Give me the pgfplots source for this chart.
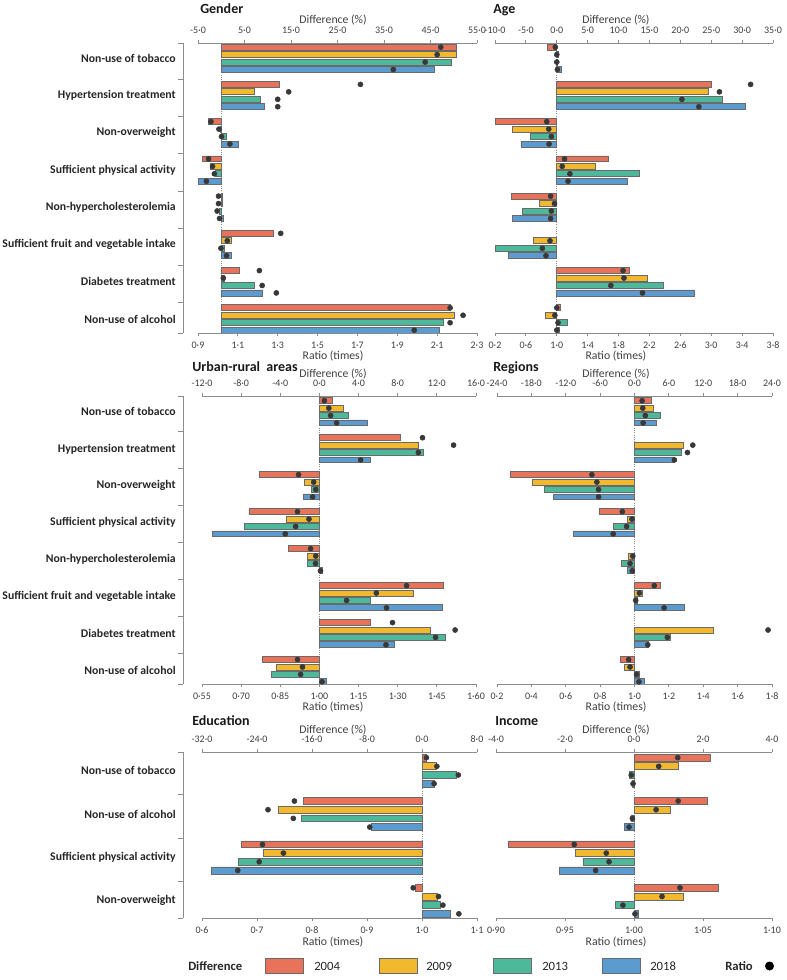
\documentclass[border=0pt]{standalone}
\usepackage{pgfplots}
\pgfplotsset{compat=1.18}
\usepackage{fontspec}
\setmainfont{Carlito}
\definecolor{cR}{HTML}{E8735A}
\definecolor{cY}{HTML}{F2B92E}
\definecolor{cG}{HTML}{4DB99A}
\definecolor{cB}{HTML}{5B9BD0}
\definecolor{cEdge}{HTML}{6A6A6A}
\definecolor{cAxis}{HTML}{8C8C8C}
\definecolor{cTick}{HTML}{404040}
\definecolor{cDot}{HTML}{383838}
\pgfplotsset{
  base/.style={scale only axis, anchor=north west, y dir=reverse, clip=false, axis y line=none,
    axis line style={cAxis, line width=0.6pt}, tick style={cAxis, line width=0.6pt},
    major tick length=2.5pt, tick align=outside,
    label style={font=\fontsize{8.8}{10}\selectfont, text=cTick}},
  diff/.style={base, axis x line*=top, xlabel={Difference (\%)},
    xticklabel style={font=\fontsize{7.5}{8}\selectfont, text=cTick, yshift=1.2pt}},
  ratio/.style={base, axis x line*=bottom, xlabel={Ratio (times)},
    xticklabel style={font=\fontsize{7.5}{8}\selectfont, text=cTick, yshift=-0.8pt}},
  bR/.style={xbar, bar shift=0pt, bar width=0.8, fill=cR, draw=cEdge, line width=0.6pt},
  bY/.style={xbar, bar shift=0pt, bar width=0.8, fill=cY, draw=cEdge, line width=0.6pt},
  bG/.style={xbar, bar shift=0pt, bar width=0.8, fill=cG, draw=cEdge, line width=0.6pt},
  bB/.style={xbar, bar shift=0pt, bar width=0.8, fill=cB, draw=cEdge, line width=0.6pt},
  dots/.style={only marks, mark=*, mark size=1.9pt, color=cDot},
  zero/.style={densely dotted, cAxis, line width=0.7pt},
  cats/.style={scale only axis, anchor=north west, width=1pt, xmin=0, xmax=1, y dir=reverse,
    axis x line=none, axis y line*=left, axis line style={cAxis,line width=0.6pt},
    major tick length=0pt, minor tick length=4pt, tick align=outside,
    minor tick style={cAxis, line width=0.6pt},
    yticklabel style={font=\bfseries\fontsize{8.8}{10}\selectfont, text=black!85, inner sep=0pt, xshift=-5.25pt, anchor=east}},
}
\begin{document}
\begin{tikzpicture}
\path[use as bounding box] (0,0) rectangle (590.25pt,-735pt);

% ================= GENDER =================
\begin{axis}[cats, at={(137.25pt,-32.25pt)}, height=217.5pt, ymin=-0.56, ymax=38.38,
  ytick={1.5,6.5,11.5,16.5,21.5,26.5,31.5,36.5},
  yticklabels={Non-use of tobacco,Hypertension treatment,Non-overweight,Sufficient physical activity,Non-hypercholesterolemia,Sufficient fruit and vegetable intake,Diabetes treatment,Non-use of alcohol},
  minor ytick={-0.56,4.3,9.3,14.3,19.3,24.3,29.3,34.3,38.38}]
\addplot[draw=none] coordinates {(0,0)};
\end{axis}
\begin{axis}[diff, at={(148.5pt,-32.25pt)}, width=209.25pt, height=217.5pt, xmin=-5, xmax=55, ymin=-0.56, ymax=38.38,
  xtick={-5,5,15,25,35,45,55}, xticklabels={-5·0,5·0,15·0,25·0,35·0,45·0,55·0},
  xlabel style={at={(axis description cs:0.484,1)}, anchor=base, yshift=14.25pt}]
\addplot[zero] coordinates {(0,-0.56) (0,38.38)};
\addplot[bR] coordinates {(50.5,0) (12.5,5) (-2.7,10) (-4.0,15) (0.2,20) (11.3,25) (3.9,30) (49.2,35)};
\addplot[bY] coordinates {(50.5,1) (7.2,6) (-0.1,11) (-2.4,16) (0.2,21) (2.1,26) (0.6,31) (50.2,36)};
\addplot[bG] coordinates {(49.6,2) (8.5,7) (1.2,12) (-1.3,17) (-0.4,22) (0.7,27) (7.1,32) (47.7,37)};
\addplot[bB] coordinates {(45.9,3) (9.3,8) (3.7,13) (-4.9,18) (0.4,23) (2.1,28) (8.8,33) (46.9,38)};
\end{axis}
\begin{axis}[ratio, at={(148.5pt,-32.25pt)}, width=209.25pt, height=217.5pt, xmin=0.9, xmax=2.3, ymin=-0.56, ymax=38.38,
  xtick={0.9,1.1,1.3,1.5,1.7,1.9,2.1,2.3}, xticklabels={0·9,1·1,1·3,1·5,1·7,1·9,2·1,2·3},
  xlabel style={at={(axis description cs:0.484,0)}, anchor=base, yshift=-19.5pt}]
\addplot[dots] coordinates {(2.118,0) (1.715,5) (0.965,10) (0.953,15) (1.003,20) (1.315,25) (1.208,30) (2.165,35)};
\addplot[dots] coordinates {(2.10,1) (1.355,6) (1.005,11) (0.973,16) (1.003,21) (1.047,26) (1.027,31) (2.23,36)};
\addplot[dots] coordinates {(2.04,2) (1.30,7) (1.018,12) (0.982,17) (0.996,22) (1.015,27) (1.222,32) (2.165,37)};
\addplot[dots] coordinates {(1.88,3) (1.30,8) (1.06,13) (0.942,18) (1.008,23) (1.043,28) (1.293,33) (1.985,38)};
\end{axis}

% ================= AGE =================
\begin{axis}[diff, at={(371.25pt,-32.25pt)}, width=208.5pt, height=217.5pt, xmin=-10, xmax=35, ymin=-0.56, ymax=38.38,
  xtick={-10,-5,0,5,10,15,20,25,30,35}, xticklabels={-10·0,-5·0,0·0,5·0,10·0,15·0,20·0,25·0,30·0,35·0},
  xlabel style={at={(axis description cs:0.435,1)}, anchor=base, yshift=14.25pt}]
\addplot[zero] coordinates {(0,-0.56) (0,38.38)};
\addplot[bR] coordinates {(-1.5,0) (25.1,5) (-9.9,10) (8.3,15) (-7.4,20) (11.8,30) (0.6,35)};
\addplot[bY] coordinates {(0.2,1) (24.5,6) (-7.2,11) (6.2,16) (-2.75,21) (-3.8,26) (14.7,31) (-1.9,36)};
\addplot[bG] coordinates {(0.1,2) (26.8,7) (-4.2,12) (13.4,17) (-5.5,22) (-9.9,27) (17.3,32) (1.7,37)};
\addplot[bB] coordinates {(0.7,3) (30.5,8) (-5.8,13) (11.4,18) (-7.2,23) (-7.8,28) (22.3,33) (0.4,38)};
\end{axis}
\begin{axis}[ratio, at={(371.25pt,-32.25pt)}, width=208.5pt, height=217.5pt, xmin=0.2, xmax=3.8, ymin=-0.56, ymax=38.38,
  xtick={0.2,0.6,1.0,1.4,1.8,2.2,2.6,3.0,3.4,3.8}, xticklabels={0·2,0·6,1·0,1·4,1·8,2·2,2·6,3·0,3·4,3·8},
  xlabel style={at={(axis description cs:0.435,0)}, anchor=base, yshift=-19.5pt}]
\addplot[dots] coordinates {(0.981,0) (3.51,5) (0.87,10) (1.10,15) (0.92,20) (1.858,30) (1.0,35)};
\addplot[dots] coordinates {(1.0,1) (3.106,6) (0.896,11) (1.07,16) (0.97,21) (0.912,26) (1.87,31) (0.975,36)};
\addplot[dots] coordinates {(1.0,2) (2.62,7) (0.93,12) (1.17,17) (0.93,22) (0.813,27) (1.70,32) (1.016,37)};
\addplot[dots] coordinates {(1.008,3) (2.84,8) (0.90,13) (1.146,18) (0.92,23) (0.86,28) (2.11,33) (1.0,38)};
\end{axis}

% ================= URBAN-RURAL =================
\begin{axis}[cats, at={(137.25pt,-297pt)}, height=216pt, ymin=-0.64, ymax=38.3,
  ytick={1.5,6.5,11.5,16.5,21.5,26.5,31.5,36.5},
  yticklabels={Non-use of tobacco,Hypertension treatment,Non-overweight,Sufficient physical activity,Non-hypercholesterolemia,Sufficient fruit and vegetable intake,Diabetes treatment,Non-use of alcohol},
  minor ytick={-0.64,4.2,9.2,14.2,19.2,24.2,29.2,34.2,38.3}]
\addplot[draw=none] coordinates {(0,0)};
\end{axis}
\begin{axis}[diff, at={(151.5pt,-297pt)}, width=205.5pt, height=216pt, xmin=-12, xmax=16, ymin=-0.64, ymax=38.3,
  xtick={-12,-8,-4,0,4,8,12,16}, xticklabels={-12·0,-8·0,-4·0,0·0,4·0,8·0,12·0,16·0},
  xlabel style={at={(axis description cs:0.478,1)}, anchor=base, yshift=14.25pt}]
\addplot[zero] coordinates {(0,-0.64) (0,38.3)};
\addplot[bR] coordinates {(1.3,0) (8.3,5) (-6.1,10) (-7.2,15) (-3.2,20) (12.7,25) (5.2,30) (-5.8,35)};
\addplot[bY] coordinates {(2.4,1) (10.1,6) (-1.5,11) (-3.4,16) (-1.2,21) (9.6,26) (11.3,31) (-4.4,36)};
\addplot[bG] coordinates {(3.0,2) (10.6,7) (-0.85,12) (-7.7,17) (-1.2,22) (5.2,27) (12.9,32) (-4.9,37)};
\addplot[bB] coordinates {(4.9,3) (5.2,8) (-1.6,13) (-10.9,18) (0.3,23) (12.6,28) (7.7,33) (0.75,38)};
\end{axis}
\begin{axis}[ratio, at={(151.5pt,-297pt)}, width=205.5pt, height=216pt, xmin=0.55, xmax=1.60, ymin=-0.64, ymax=38.3,
  xtick={0.55,0.70,0.85,1.00,1.15,1.30,1.45,1.60}, xticklabels={0·55,0·70,0·85,1·00,1·15,1·30,1·45,1·60},
  xlabel style={at={(axis description cs:0.478,0)}, anchor=base, yshift=-19.5pt}]
\addplot[dots] coordinates {(1.019,0) (1.395,5) (0.92,10) (0.916,15) (0.966,20) (1.334,25) (1.28,30) (0.916,35)};
\addplot[dots] coordinates {(1.036,1) (1.514,6) (0.978,11) (0.96,16) (0.986,21) (1.218,26) (1.52,31) (0.935,36)};
\addplot[dots] coordinates {(1.043,2) (1.379,7) (0.986,12) (0.909,17) (0.985,22) (1.104,27) (1.445,32) (0.928,37)};
\addplot[dots] coordinates {(1.066,3) (1.158,8) (0.974,13) (0.869,18) (1.004,23) (1.257,28) (1.255,33) (1.01,38)};
\end{axis}

% ================= REGIONS =================
\begin{axis}[diff, at={(372.75pt,-297pt)}, width=206.25pt, height=216pt, xmin=-24, xmax=24, ymin=-0.64, ymax=38.3,
  xtick={-24,-18,-12,-6,0,6,12,18,24}, xticklabels={-24·0,-18·0,-12·0,-6·0,0·0,6·0,12·0,18·0,24·0},
  xlabel style={at={(axis description cs:0.433,1)}, anchor=base, yshift=14.25pt}]
\addplot[zero] coordinates {(0,-0.64) (0,38.3)};
\addplot[bR] coordinates {(2.9,0) (-21.6,10) (-6.2,15) (4.5,25) (-2.4,35)};
\addplot[bY] coordinates {(3.3,1) (8.5,6) (-17.8,11) (-1.25,16) (-1.1,21) (1.35,26) (13.7,31) (-1.8,36)};
\addplot[bG] coordinates {(4.5,2) (8.2,7) (-15.7,12) (-3.7,17) (-2.3,22) (0.55,27) (6.2,32) (0.8,37)};
\addplot[bB] coordinates {(3.8,3) (7.0,8) (-14.1,13) (-10.6,18) (-1.25,23) (8.7,28) (2.5,33) (1.7,38)};
\end{axis}
\begin{axis}[ratio, at={(372.75pt,-297pt)}, width=206.25pt, height=216pt, xmin=0.2, xmax=1.8, ymin=-0.64, ymax=38.3,
  xtick={0.2,0.4,0.6,0.8,1.0,1.2,1.4,1.6,1.8}, xticklabels={0·2,0·4,0·6,0·8,1·0,1·2,1·4,1·6,1·8},
  xlabel style={at={(axis description cs:0.433,0)}, anchor=base, yshift=-19.5pt}]
\addplot[dots] coordinates {(1.044,0) (0.752,10) (0.929,15) (1.115,25) (0.966,35)};
\addplot[dots] coordinates {(1.048,1) (1.339,6) (0.781,11) (0.985,16) (0.99,21) (1.028,26) (1.777,31) (0.974,36)};
\addplot[dots] coordinates {(1.063,2) (1.308,7) (0.791,12) (0.954,17) (0.974,22) (1.007,27) (1.191,32) (1.012,37)};
\addplot[dots] coordinates {(1.05,3) (1.232,8) (0.791,13) (0.876,18) (0.987,23) (1.172,28) (1.077,33) (1.026,38)};
\end{axis}

% ================= EDUCATION =================
\begin{axis}[cats, at={(137.25pt,-564pt)}, height=124.5pt, ymin=-0.65, ymax=18.48,
  ytick={1.5,6.5,11.5,16.5},
  yticklabels={Non-use of tobacco,Non-use of alcohol,Sufficient physical activity,Non-overweight},
  minor ytick={-0.65,4.25,9.25,14.25,18.48}]
\addplot[draw=none] coordinates {(0,0)};
\end{axis}
\begin{axis}[diff, at={(151.5pt,-564pt)}, width=206.25pt, height=124.5pt, xmin=-32, xmax=8, ymin=-0.65, ymax=18.48,
  xtick={-32,-24,-16,-8,0,8}, xticklabels={-32·0,-24·0,-16·0,-8·0,0·0,8·0},
  xlabel style={at={(axis description cs:0.476,1)}, anchor=base, yshift=14.25pt}]
\addplot[zero] coordinates {(0,-0.65) (0,18.48)};
\addplot[bR] coordinates {(0.7,0) (-17.2,5) (-26.2,10) (-1.0,15)};
\addplot[bY] coordinates {(2.1,1) (-20.9,6) (-23.1,11) (2.2,16)};
\addplot[bG] coordinates {(5.0,2) (-17.6,7) (-26.7,12) (2.7,17)};
\addplot[bB] coordinates {(1.8,3) (-7.4,8) (-30.6,13) (4.1,18)};
\end{axis}
\begin{axis}[ratio, at={(151.5pt,-564pt)}, width=206.25pt, height=124.5pt, xmin=0.6, xmax=1.1, ymin=-0.65, ymax=18.48,
  xtick={0.6,0.7,0.8,0.9,1.0,1.1}, xticklabels={0·6,0·7,0·8,0·9,1·0,1·1},
  xlabel style={at={(axis description cs:0.476,0)}, anchor=base, yshift=-20.5pt}]
\addplot[dots] coordinates {(1.008,0) (0.768,5) (0.71,10) (0.984,15)};
\addplot[dots] coordinates {(1.027,1) (0.72,6) (0.748,11) (1.03,16)};
\addplot[dots] coordinates {(1.066,2) (0.766,7) (0.704,12) (1.038,17)};
\addplot[dots] coordinates {(1.022,3) (0.905,8) (0.665,13) (1.067,18)};
\end{axis}

% ================= INCOME =================
\begin{axis}[diff, at={(372pt,-564pt)}, width=207pt, height=124.5pt, xmin=-4, xmax=4, ymin=-0.65, ymax=18.48,
  xtick={-4,-2,0,2,4}, xticklabels={-4·0,-2·0,0·0,2·0,4·0},
  xlabel style={at={(axis description cs:0.435,1)}, anchor=base, yshift=14.25pt}]
\addplot[zero] coordinates {(0,-0.65) (0,18.48)};
\addplot[bR] coordinates {(2.22,0) (2.14,5) (-3.64,10) (2.44,15)};
\addplot[bY] coordinates {(1.28,1) (1.06,6) (-1.69,11) (1.44,16)};
\addplot[bG] coordinates {(-0.13,2) (-0.09,7) (-1.48,12) (-0.55,17)};
\addplot[bB] coordinates {(-0.06,3) (-0.29,8) (-2.16,13) (0.12,18)};
\end{axis}
\begin{axis}[ratio, at={(372pt,-564pt)}, width=207pt, height=124.5pt, xmin=0.90, xmax=1.10, ymin=-0.65, ymax=18.48,
  xtick={0.90,0.95,1.00,1.05,1.10}, xticklabels={0·90,0·95,1·00,1·05,1·10},
  xlabel style={at={(axis description cs:0.435,0)}, anchor=base, yshift=-20.5pt}]
\addplot[dots] coordinates {(1.0317,0) (1.032,5) (0.9567,10) (1.0333,15)};
\addplot[dots] coordinates {(1.0179,1) (1.016,6) (0.9799,11) (1.0203,16)};
\addplot[dots] coordinates {(0.998,2) (0.9988,7) (0.9819,12) (0.992,17)};
\addplot[dots] coordinates {(0.9993,3) (0.9964,8) (0.9722,13) (1.0007,18)};
\end{axis}

% ================= TITLES & LEGEND =================
\begin{scope}[x=0.75pt,y=-0.75pt]
\tikzset{ttl/.style={anchor=base west, inner sep=0pt, font=\bfseries\fontsize{10.5}{12}\selectfont, text=black!90}}
\node[ttl] at (200,13.5) {Gender};
\node[ttl] at (493,13.5) {Age};
\node[ttl] at (192,371.5) {Urban-rural\ \ areas};
\node[ttl] at (493,371.5) {Regions};
\node[ttl] at (192,725) {Education};
\node[ttl] at (495,725.5) {Income};
\tikzset{lg/.style={anchor=west, inner sep=0pt, font=\fontsize{9.5}{11}\selectfont, text=black!85}}
\node[lg, font=\bfseries\fontsize{9.5}{11}\selectfont] at (188,966) {Difference};
\filldraw[fill=cR, draw=cEdge, line width=0.6pt] (265,958.5) rectangle (303,973.5);
\node[lg] at (314,966) {2004};
\filldraw[fill=cY, draw=cEdge, line width=0.6pt] (379,958.5) rectangle (417,973.5);
\node[lg] at (426,966) {2009};
\filldraw[fill=cG, draw=cEdge, line width=0.6pt] (493,958.5) rectangle (531,973.5);
\node[lg] at (542,966) {2013};
\filldraw[fill=cB, draw=cEdge, line width=0.6pt] (602,958.5) rectangle (640,973.5);
\node[lg] at (650,966) {2018};
\node[lg, font=\bfseries\fontsize{9.5}{11}\selectfont] at (725,966) {Ratio};
\fill[black] (769.5,966) circle (4.5);
\end{scope}
\end{tikzpicture}
\end{document}
